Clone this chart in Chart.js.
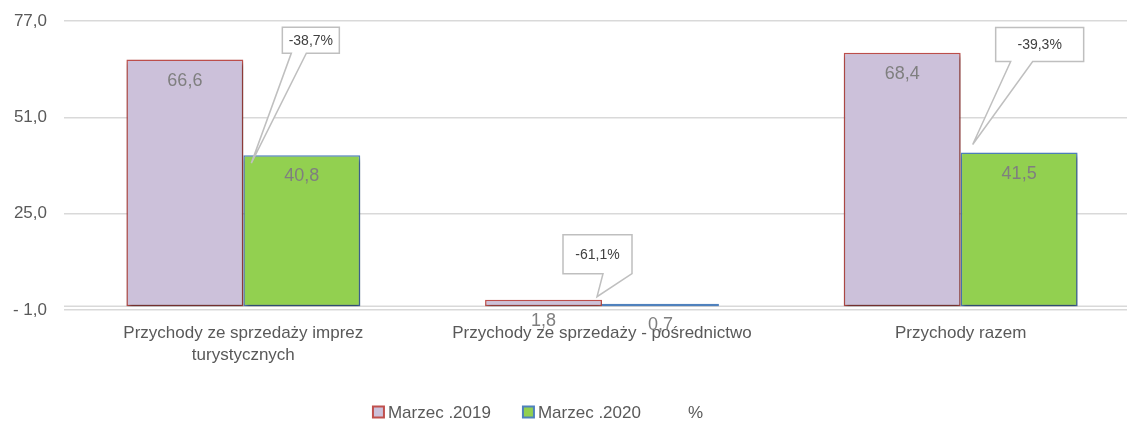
<!DOCTYPE html>
<html><head><meta charset="utf-8">
<script src="https://cdn.jsdelivr.net/npm/chart.js@4.4.1/dist/chart.umd.min.js"></script>
<style>
html,body{margin:0;padding:0;background:#fff;overflow:hidden;width:1127px;height:423px;}
#wrap{width:1140px;height:423px;position:relative;}
</style></head><body>
<div id="wrap"><canvas id="c" width="1140" height="423"></canvas></div>
<script>
// ---- data ----
const categories = [['Przychody ze sprzedaży imprez', 'turystycznych'], 'Przychody ze sprzedaży - pośrednictwo', 'Przychody razem'];
const seriesNames = ['Marzec .2019', 'Marzec .2020', '%'];
const values2019 = [66.6, 1.8, 68.4];
const values2020 = [40.8, 0.7, 41.5];
const changeLabels = ['-38,7%', '-61,1%', '-39,3%'];
const yTicks = [-1, 25, 51, 77];

// ---- style ----
const FONT = '"Liberation Sans", Arial, sans-serif';
const TXT = '#595959';
const GRID = '#d9d9d9';
const fmt = v => (v < 0 ? '- ' + Math.abs(v).toFixed(1) : v.toFixed(1)).replace('.', ',');

// callout placement relative to the 2020 bar (left edge, top)
const calloutStyle = [
  {tip: [8, 8],   box: [39, -128, 57, 26], base: [9, 24]},
  {tip: [-5, -7], box: [-39, -69, 69, 39], base: [40, 69]},
  {tip: [12, -8], box: [35, -125, 88, 34], base: [15, 37]}
];

const shadowAndLabels = {
  id: 'shadowAndLabels',
  beforeDatasetsDraw(chart) {
    const ctx = chart.ctx;
    const y0 = chart.scales.y.getPixelForValue(0);
    ctx.save();
    ctx.strokeStyle = GRID; ctx.lineWidth = 1.5;
    ctx.beginPath(); ctx.moveTo(chart.chartArea.left, y0); ctx.lineTo(chart.chartArea.right, y0); ctx.stroke();
    ctx.restore();
    ctx.save();
    ctx.shadowColor = 'rgba(0,0,0,0.45)';
    ctx.shadowBlur = 4;
    ctx.shadowOffsetY = 3;
    ctx.shadowOffsetX = 1;
  },
  afterDatasetsDraw(chart) {
    const ctx = chart.ctx;
    ctx.restore();
    ctx.save();
    ctx.font = '18px ' + FONT;
    ctx.fillStyle = '#7f7f7f';
    ctx.textAlign = 'center';
    ctx.textBaseline = 'middle';
    [0, 1].forEach(di => {
      const meta = chart.getDatasetMeta(di);
      meta.data.forEach((el, i) => {
        const v = chart.data.datasets[di].data[i];
        ctx.fillText(v.toFixed(1).replace('.', ','), el.x, el.y + 21);
      });
    });
    const meta = chart.getDatasetMeta(1);
    meta.data.forEach((el, i) => {
      const s = calloutStyle[i];
      const left = el.x - el.width / 2, top = el.y;
      const tx = left + s.tip[0], ty = top + s.tip[1];
      const bx = left + s.box[0], by = top + s.box[1], bw = s.box[2], bh = s.box[3];
      ctx.beginPath();
      ctx.moveTo(bx, by);
      ctx.lineTo(bx + bw, by);
      ctx.lineTo(bx + bw, by + bh);
      ctx.lineTo(bx + s.base[1], by + bh);
      ctx.lineTo(tx, ty);
      ctx.lineTo(bx + s.base[0], by + bh);
      ctx.lineTo(bx, by + bh);
      ctx.closePath();
      ctx.fillStyle = '#ffffff';
      ctx.fill();
      ctx.strokeStyle = '#bfbfbf';
      ctx.lineWidth = 1.5;
      ctx.stroke();
      ctx.font = '14px ' + FONT;
      ctx.fillStyle = '#404040';
      ctx.fillText(changeLabels[i], bx + bw / 2, by + bh / 2 + 1);
    });
    ctx.restore();
  }
};

const customLegend = {
  id: 'customLegend',
  afterDraw(chart) {
    const ctx = chart.ctx;
    ctx.save();
    ctx.font = '17px ' + FONT;
    ctx.textBaseline = 'middle';
    ctx.textAlign = 'left';
    const box = 11, gapBox = 4, gapItem = 32;
    const widths = seriesNames.map(n => ctx.measureText(n).width);
    let total = 0;
    widths.forEach((w, i) => { total += box + gapBox + w + (i < widths.length - 1 ? gapItem : 0); });
    let x = 538 - total / 2;
    const yc = 412;
    seriesNames.forEach((n, i) => {
      const ds = chart.data.datasets[i];
      if (ds && ds.backgroundColor) {
        ctx.fillStyle = ds.backgroundColor;
        ctx.fillRect(x, yc - box / 2, box, box);
        ctx.strokeStyle = ds.borderColor;
        ctx.lineWidth = 2;
        ctx.strokeRect(x, yc - box / 2, box, box);
      }
      x += box + gapBox;
      ctx.fillStyle = TXT;
      ctx.fillText(n, x, yc + 1);
      x += widths[i] + gapItem;
    });
    ctx.restore();
  }
};

new Chart(document.getElementById('c'), {
  type: 'bar',
  data: {
    labels: categories,
    datasets: [
      {label: seriesNames[0], data: values2019, backgroundColor: '#CCC1DA', borderColor: '#C0504D', borderWidth: 1.5, borderSkipped: false},
      {label: seriesNames[1], data: values2020, backgroundColor: '#92D050', borderColor: '#4F81BD', borderWidth: 1.5, borderSkipped: false}
    ]
  },
  options: {
    responsive: false,
    animation: false,
    devicePixelRatio: 1,
    datasets: {bar: {categoryPercentage: 0.652, barPercentage: 1}},
    layout: {padding: {top: 21, left: 0, right: 0, bottom: 0}},
    scales: {
      x: {
        grid: {display: false, drawTicks: false},
        border: {display: false},
        ticks: {color: TXT, font: {family: FONT, size: 17, lineHeight: 1.3}, padding: 12, maxRotation: 0, autoSkip: false},
        afterFit: s => { s.height = 113; }
      },
      y: {
        min: -1, max: 77,
        afterBuildTicks: s => { s.ticks = yTicks.map(v => ({value: v})); },
        grid: {color: GRID, lineWidth: 1.5, drawTicks: false},
        border: {display: false},
        ticks: {color: TXT, font: {family: FONT, size: 17, lineHeight: 0.4}, padding: 17, callback: v => fmt(v)},
        afterFit: s => { s.width = 64; }
      }
    },
    plugins: {legend: {display: false}, tooltip: {enabled: false}}
  },
  plugins: [shadowAndLabels, customLegend]
});
</script>
</body></html>
